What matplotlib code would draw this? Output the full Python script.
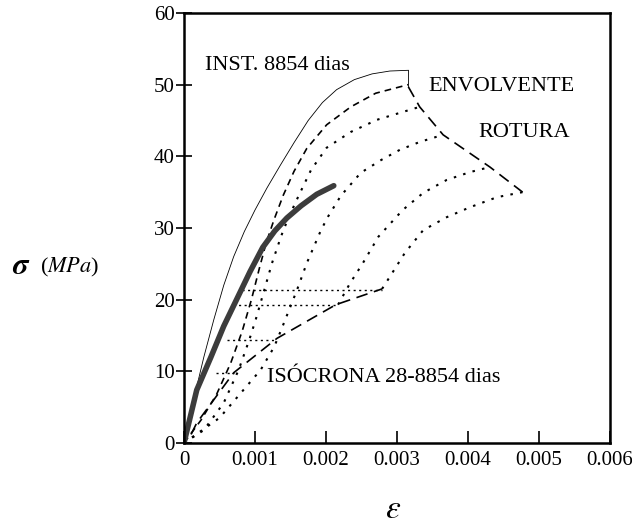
import matplotlib
matplotlib.use("Agg")
import matplotlib.pyplot as plt

plt.rcParams['font.family'] = ['Liberation Serif', 'DejaVu Serif']
plt.rcParams['mathtext.fontset'] = 'stix'

# instantaneous curve at 8854 days (thin solid)
inst_x = [0, 0.00014, 0.00028, 0.00042, 0.00056, 0.00070, 0.00085, 0.00100, 0.00117, 0.00136,
          0.00155, 0.00175, 0.00195, 0.00215, 0.00240, 0.00265, 0.00290, 0.00316]
inst_y = [0, 6.2, 12.0, 17.2, 22.0, 26.0, 29.5, 32.5, 35.6, 38.8,
          41.9, 45.0, 47.5, 49.3, 50.7, 51.5, 51.9, 52.0]

# first creep curve (dashed)
b_x = [0, 0.00024, 0.00046, 0.00066, 0.00082, 0.00095, 0.00106, 0.00116, 0.00127, 0.00140,
       0.00155, 0.00173, 0.00201, 0.00235, 0.00270, 0.00316]
b_y = [0, 3.2, 6.8, 11.2, 15.6, 20.0, 24.3, 28.0, 31.2, 34.6, 37.9, 41.1, 44.4, 46.9, 48.8, 50.0]

# dotted curves
c_x = [0, 0.00028, 0.00056, 0.00077, 0.00092, 0.00101, 0.00113, 0.00124, 0.00137, 0.00147,
       0.00162, 0.00179, 0.00201, 0.00235, 0.00272, 0.00332]
c_y = [0, 1.8, 5.6, 10.2, 14.4, 17.2, 21.3, 25.1, 28.9, 31.4, 34.6, 38.1, 41.2, 43.4, 45.1, 46.9]

d_x = [0, 0.00050, 0.00108, 0.00127, 0.00137, 0.00151, 0.00159, 0.00173, 0.00193, 0.00203,
       0.00221, 0.00249, 0.00278, 0.00304, 0.00332, 0.00365]
d_y = [0, 3.5, 10.2, 13.4, 15.8, 19.3, 21.3, 25.1, 29.7, 31.6, 34.5, 37.7, 39.5, 40.9, 42.0, 43.0]

e_x = [0.00217, 0.00234, 0.00252, 0.00274, 0.00308, 0.00337, 0.00370, 0.00403, 0.00431]
e_y = [19.3, 22.3, 25.1, 28.8, 32.5, 34.9, 36.7, 37.8, 38.5]

f_x = [0.00279, 0.00290, 0.00311, 0.00337, 0.00370, 0.00403, 0.00441, 0.00477]
f_y = [21.5, 23.2, 26.5, 29.7, 31.5, 32.9, 34.3, 35.0]

# thick grey curve
thick_x = [0, 0.00018, 0.00038, 0.00056, 0.00075, 0.00093, 0.00111, 0.00128, 0.00145, 0.00165,
           0.00187, 0.00211]
thick_y = [0, 7.4, 12.0, 16.3, 20.2, 23.9, 27.3, 29.6, 31.4, 33.1, 34.7, 35.9]

# failure envelope
env_x = [0.00316, 0.00332, 0.00365, 0.00431, 0.00477]
env_y = [49.7, 46.9, 43.0, 38.5, 35.0]

# isochrone 28-8854 days
iso_x = [0.00010, 0.00018, 0.00070, 0.00131, 0.00214, 0.00279]
iso_y = [1.2, 2.8, 9.8, 14.6, 19.3, 21.5]

# horizontal dotted connectors (stress level, x start, x end)
h_levels = [21.4, 19.3, 14.4, 9.8]
h_start = [0.00082, 0.00069, 0.00060, 0.00045]
h_end = [0.00279, 0.00217, 0.00131, 0.00070]

xticks = [0, 0.001, 0.002, 0.003, 0.004, 0.005, 0.006]
xlabels = ['0', '0.001', '0.002', '0.003', '0.004', '0.005', '0.006']
yticks = [0, 10, 20, 30, 40, 50, 60]

fig = plt.figure(figsize=(6.32, 5.27), dpi=100)
ax = fig.add_axes([0.2911, 0.1594, 0.674, 0.816])

ax.plot(inst_x, inst_y, color='black', lw=0.6)
ax.plot([inst_x[-1], env_x[0]], [inst_y[-1], env_y[0]], color='black', lw=0.6)
ax.plot(b_x, b_y, color='black', lw=1.2, dashes=(4, 3))
for xs, ys in [(c_x, c_y), (d_x, d_y), (e_x, e_y), (f_x, f_y)]:
    ax.plot(xs, ys, color='black', lw=1.5, dashes=(1.2, 3.5))
for lev, x0, x1 in zip(h_levels, h_start, h_end):
    ax.plot([x0, x1], [lev, lev], color='black', lw=1.0, dashes=(1.5, 2.5))
ax.plot(thick_x, thick_y, color='#3c3c3c', lw=4, solid_capstyle='round', solid_joinstyle='round')
ax.plot(env_x, env_y, color='black', lw=1.2, dashes=(7, 4))
ax.plot(iso_x, iso_y, color='black', lw=1.2, dashes=(7, 4))

ax.text(0.0003, 52.7, 'INST. 8854 dias', fontsize=16, va='center')
ax.text(0.00344, 49.7, 'ENVOLVENTE', fontsize=16, va='center')
ax.text(0.00414, 43.3, 'ROTURA', fontsize=16, va='center')
ax.text(0.00117, 9.1, 'ISÓCRONA 28-8854 dias', fontsize=16, va='center')

ax.set_xlim(0, 0.006)
ax.set_ylim(0, 60)
ax.set_xticks(xticks)
ax.set_xticklabels(xlabels)
ax.set_yticks(yticks)
ax.tick_params(axis='x', direction='in', length=8.5, width=1.2, labelsize=15, pad=6)
ax.tick_params(axis='y', direction='inout', length=11, width=1.2, labelsize=15, pad=1)
for s in ax.spines.values():
    s.set_linewidth(1.8)

fig.text(12 / 632, 1 - 267 / 527, r'$\boldsymbol{\sigma}$', fontsize=22, va='center', ha='left')
fig.text(40 / 632, 1 - 267 / 527, r'($\mathit{MPa}$)', fontsize=16, va='center', ha='left')
fig.text(393 / 632, 1 - 510 / 527, r'$\varepsilon$', fontsize=24, va='center', ha='center')

fig.savefig('out.png', dpi=100)
